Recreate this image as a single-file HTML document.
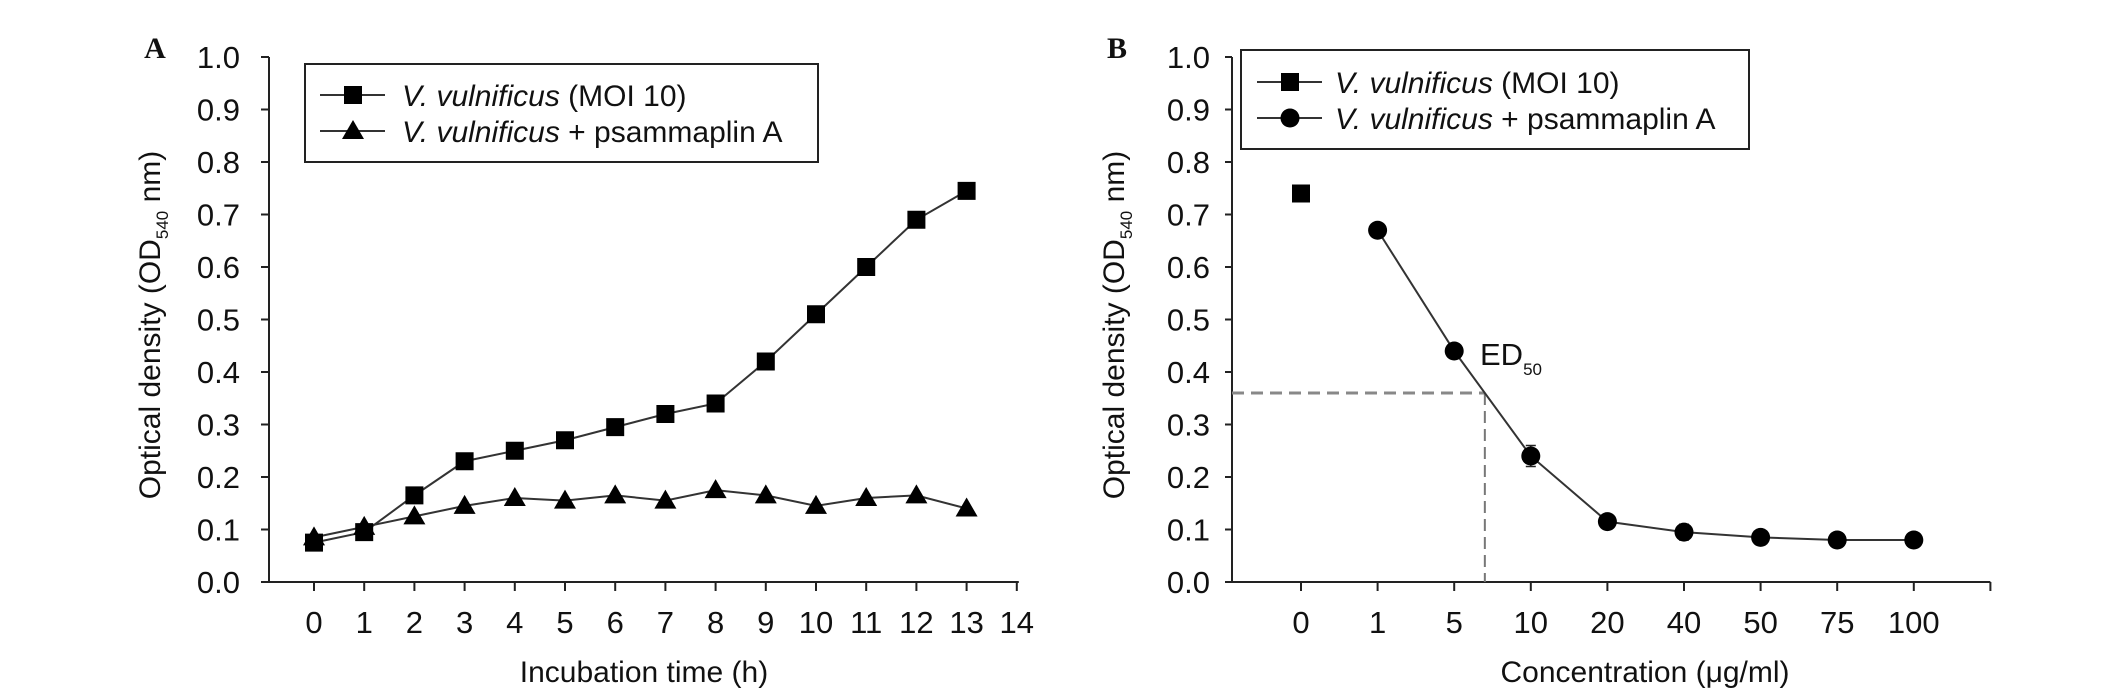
<!DOCTYPE html>
<html><head><meta charset="utf-8"><style>
html,body{margin:0;padding:0;background:#fff}
svg{display:block}
text{font-family:"Liberation Sans Narrow","Liberation Sans",sans-serif;fill:#111}
</style></head><body>
<svg id="fig" width="2126" height="692" viewBox="0 0 2126 692" xmlns="http://www.w3.org/2000/svg">
<g id="pa"></g>
<g id="pb"></g>
</svg>
<script>
const aHours=[0,1,2,3,4,5,6,7,8,9,10,11,12,13];
const aMoi=[0.075,0.095,0.165,0.23,0.25,0.27,0.295,0.32,0.34,0.42,0.51,0.60,0.69,0.745];
const aPsam=[0.085,0.105,0.125,0.145,0.16,0.155,0.165,0.155,0.175,0.165,0.145,0.16,0.165,0.14];
const aXTicks=[0,1,2,3,4,5,6,7,8,9,10,11,12,13,14];
const yTicks=[0,0.1,0.2,0.3,0.4,0.5,0.6,0.7,0.8,0.9,1.0];
const bCats=["0","1","5","10","20","40","50","75","100"];
const bMoiIdx=[0];
const bMoi=[0.74];
const bMoiErr=[0.015];
const bPsamIdx=[1,2,3,4,5,6,7,8];
const bPsam=[0.67,0.44,0.24,0.115,0.095,0.085,0.08,0.08];
const bPsamErr=[0.01,0.01,0.02,0.01,0.015,0.008,0.006,0.006];
const ed50=0.36;
const ed50Idx=2.4;

const NS="http://www.w3.org/2000/svg";
function mk(p,t,a){const e=document.createElementNS(NS,t);for(const k in a)e.setAttribute(k,a[k]);p.appendChild(e);return e;}
const y0=582,y1=57;
function Y(v){return y0-(y0-y1)*v;}

// Panel A
const pa=document.getElementById('pa');
function XA(h){return 314+h*50.2;}
let t=mk(pa,'text',{x:155,y:58,'font-size':30,'font-weight':'bold','text-anchor':'middle',style:'font-family:"Liberation Serif",serif'});t.textContent='A';


let l=mk(pa,'line',{x1:269,y1:Y(1.0),x2:269,y2:y0,stroke:'#222','stroke-width':2});


l=mk(pa,'line',{x1:261,y1:y0,x2:XA(14)+2,y2:y0,stroke:'#222','stroke-width':2});


yTicks.forEach(v=>{mk(pa,'line',{x1:261,y1:Y(v),x2:269,y2:Y(v),stroke:'#222','stroke-width':2});
 const e=mk(pa,'text',{x:240,y:Y(v)+11,'font-size':31,'text-anchor':'end'});e.textContent=v.toFixed(1);
 
 });
aXTicks.forEach(h=>{mk(pa,'line',{x1:XA(h),y1:y0,x2:XA(h),y2:y0+9,stroke:'#222','stroke-width':2});
 const e=mk(pa,'text',{x:XA(h),y:633,'font-size':31,'text-anchor':'middle'});e.textContent=h;
 
 });
t=mk(pa,'text',{x:644,y:682,'font-size':30,'text-anchor':'middle'});t.textContent='Incubation time (h)';


t=mk(pa,'text',{transform:'translate(160,325) rotate(-90)','font-size':30,'text-anchor':'middle',style:'font-family:"Liberation Sans",sans-serif'});
t.innerHTML='Optical density (OD<tspan font-size="17" dy="8">540</tspan><tspan dy="-8"> nm)</tspan>';


function line(p,xs,ys,name){const d=xs.map((x,i)=>(i?'L':'M')+x+' '+ys[i]).join(' ');const e=mk(p,'path',{d:d,fill:'none',stroke:'#333','stroke-width':2});}
line(pa,aHours.map(XA),aMoi.map(Y),'moi-line');
line(pa,aHours.map(XA),aPsam.map(Y),'psammaplin-line');
function sq(p,x,y,name){const e=mk(p,'rect',{x:x-9,y:y-9,width:18,height:18,fill:'#000'});}
function tri(p,x,y,name){const e=mk(p,'polygon',{points:`${x},${y-11} ${x-11},${y+8} ${x+11},${y+8}`,fill:'#000'});}
function circ(p,x,y,name){const e=mk(p,'circle',{cx:x,cy:y,r:9.5,fill:'#000'});}
aHours.forEach((h,i)=>tri(pa,XA(h),Y(aPsam[i]),'psammaplin-point'));
aHours.forEach((h,i)=>sq(pa,XA(h),Y(aMoi[i]),'moi-point'));
let r=mk(pa,'rect',{x:305,y:64,width:513,height:98,fill:'#fff',stroke:'#222','stroke-width':2});


mk(pa,'line',{x1:320,y1:95,x2:385,y2:95,stroke:'#333','stroke-width':2});sq(pa,353,95,'legend-moi-marker');
mk(pa,'line',{x1:320,y1:131,x2:385,y2:131,stroke:'#333','stroke-width':2});tri(pa,353,131,'legend-psammaplin-marker');
t=mk(pa,'text',{x:402,y:106,'font-size':30});t.innerHTML='<tspan font-style="italic">V. vulnificus</tspan> (MOI 10)';


t=mk(pa,'text',{x:402,y:142,'font-size':30});t.innerHTML='<tspan font-style="italic">V. vulnificus</tspan> + psammaplin A';



// Panel B
const pb=document.getElementById('pb');
function XB(i){return 1301+i*76.6;}
t=mk(pb,'text',{x:1117,y:58,'font-size':30,'font-weight':'bold','text-anchor':'middle',style:'font-family:"Liberation Serif",serif'});t.textContent='B';


l=mk(pb,'line',{x1:1232,y1:Y(1.0),x2:1232,y2:y0,stroke:'#222','stroke-width':2});


l=mk(pb,'line',{x1:1225,y1:y0,x2:XB(9),y2:y0,stroke:'#222','stroke-width':2});


yTicks.forEach(v=>{mk(pb,'line',{x1:1225,y1:Y(v),x2:1232,y2:Y(v),stroke:'#222','stroke-width':2});
 const e=mk(pb,'text',{x:1210,y:Y(v)+11,'font-size':31,'text-anchor':'end'});e.textContent=v.toFixed(1);
 
 });
[0,1,2,3,4,5,6,7,8,9].forEach(i=>mk(pb,'line',{x1:XB(i),y1:y0,x2:XB(i),y2:y0+9,stroke:'#222','stroke-width':2}));
bCats.forEach((c,i)=>{const e=mk(pb,'text',{x:XB(i),y:633,'font-size':31,'text-anchor':'middle'});e.textContent=c;
 
 });
t=mk(pb,'text',{x:1645,y:682,'font-size':30,'text-anchor':'middle'});t.textContent='Concentration (μg/ml)';


t=mk(pb,'text',{transform:'translate(1124,325) rotate(-90)','font-size':30,'text-anchor':'middle',style:'font-family:"Liberation Sans",sans-serif'});
t.innerHTML='Optical density (OD<tspan font-size="17" dy="8">540</tspan><tspan dy="-8"> nm)</tspan>';


let dh=mk(pb,'path',{d:`M1232 ${Y(ed50)} L${XB(ed50Idx)} ${Y(ed50)}`,stroke:'#888','stroke-width':3,'stroke-dasharray':'12 7',fill:'none'});


dh=mk(pb,'path',{d:`M${XB(ed50Idx)} ${Y(ed50)} L${XB(ed50Idx)} ${y0}`,stroke:'#777','stroke-width':2,'stroke-dasharray':'12 6',fill:'none'});


t=mk(pb,'text',{x:1480,y:365,'font-size':31,style:'font-family:"Liberation Sans",sans-serif'});t.innerHTML='ED<tspan font-size="17" dy="10">50</tspan>';


line(pb,bPsamIdx.map(XB),bPsam.map(Y),'psammaplin-line-b');
function err(p,x,v,e){mk(p,'path',{d:`M${x} ${Y(v+e)} L${x} ${Y(v-e)} M${x-5} ${Y(v+e)} L${x+5} ${Y(v+e)} M${x-5} ${Y(v-e)} L${x+5} ${Y(v-e)}`,stroke:'#222','stroke-width':1.5,fill:'none'});}
bMoiIdx.forEach((ix,i)=>{err(pb,XB(ix),bMoi[i],bMoiErr[i]);sq(pb,XB(ix),Y(bMoi[i]),'moi-point-b');});
bPsamIdx.forEach((ix,i)=>{err(pb,XB(ix),bPsam[i],bPsamErr[i]);circ(pb,XB(ix),Y(bPsam[i]),'psammaplin-point-b');});
r=mk(pb,'rect',{x:1241,y:50,width:508,height:99,fill:'#fff',stroke:'#222','stroke-width':2});


mk(pb,'line',{x1:1257,y1:82,x2:1322,y2:82,stroke:'#333','stroke-width':2});sq(pb,1290,82,'legend-moi-marker-b');
mk(pb,'line',{x1:1257,y1:118,x2:1322,y2:118,stroke:'#333','stroke-width':2});circ(pb,1290,118,'legend-psammaplin-marker-b');
t=mk(pb,'text',{x:1335,y:93,'font-size':30});t.innerHTML='<tspan font-style="italic">V. vulnificus</tspan> (MOI 10)';


t=mk(pb,'text',{x:1335,y:129,'font-size':30});t.innerHTML='<tspan font-style="italic">V. vulnificus</tspan> + psammaplin A';


</script>
</body></html>
